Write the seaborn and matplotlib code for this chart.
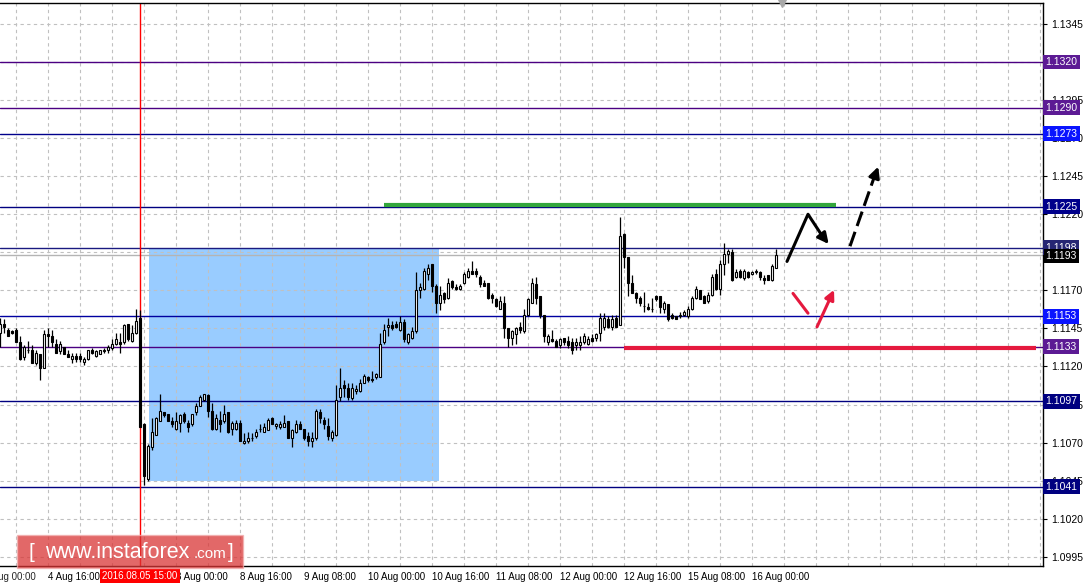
import numpy as np
import pandas as pd
import seaborn as sns
import matplotlib.pyplot as plt
from matplotlib.patches import Rectangle
from matplotlib.ticker import FixedFormatter
from matplotlib.transforms import blended_transform_factory

# EURUSD H1 bars (4 Aug 2016 .. 16 Aug 2016)
opens = [
    1.1142, 1.1148, 1.1144, 1.1143, 1.1144, 1.1136, 1.1126, 1.1131, 1.1131, 1.1122,
    1.1128, 1.1119, 1.1141, 1.1140, 1.1135, 1.1130, 1.1133, 1.1128, 1.1125, 1.1127,
    1.1127, 1.1123, 1.1125, 1.1131, 1.1127, 1.1128, 1.1130, 1.1131, 1.1132, 1.1135,
    1.1136, 1.1136, 1.1148, 1.1137, 1.1142, 1.1152, 1.1082, 1.1046, 1.1067, 1.1075,
    1.1084, 1.1090, 1.1089, 1.1084, 1.1079, 1.1083, 1.1089, 1.1083, 1.1082, 1.1090,
    1.1094, 1.1098, 1.1101, 1.1091, 1.1079, 1.1085, 1.1084, 1.1090, 1.1079, 1.1079,
    1.1083, 1.1070, 1.1071, 1.1073, 1.1074, 1.1079, 1.1077, 1.1078, 1.1086, 1.1081,
    1.1080, 1.1080, 1.1084, 1.1073, 1.1077, 1.1082, 1.1079, 1.1074, 1.1071, 1.1073,
    1.1090, 1.1085, 1.1081, 1.1073, 1.1075, 1.1100, 1.1108, 1.1106, 1.1099, 1.1104,
    1.1104, 1.1109, 1.1113, 1.1112, 1.1113, 1.1113, 1.1136, 1.1146, 1.1147, 1.1148,
    1.1144, 1.1149, 1.1136, 1.1139, 1.1143, 1.1170, 1.1171, 1.1181, 1.1187, 1.1173,
    1.1162, 1.1168, 1.1165, 1.1176, 1.1172, 1.1171, 1.1175, 1.1179, 1.1183, 1.1183,
    1.1179, 1.1175, 1.1175, 1.1167, 1.1164, 1.1158, 1.1162, 1.1145, 1.1139, 1.1141,
    1.1146, 1.1143, 1.1154, 1.1162, 1.1174, 1.1166, 1.1154, 1.1136, 1.1138, 1.1137,
    1.1134, 1.1139, 1.1137, 1.1136, 1.1134, 1.1134, 1.1136, 1.1135, 1.1139, 1.1139,
    1.1142, 1.1146, 1.1151, 1.1146, 1.1152, 1.1147, 1.1207, 1.1192, 1.1175, 1.1168,
    1.1165, 1.1160, 1.1159, 1.1158, 1.1166, 1.1166, 1.1158, 1.1161, 1.1154, 1.1153,
    1.1153, 1.1154, 1.1153, 1.1158, 1.1165, 1.1170, 1.1166, 1.1163, 1.1167, 1.1181,
    1.1171, 1.1187, 1.1194, 1.1195, 1.1179, 1.1183, 1.1178, 1.1182, 1.1181, 1.1182,
    1.1182, 1.1178, 1.1180, 1.1177, 1.1185,
]
highs = [
    1.1152, 1.1151, 1.1145, 1.1144, 1.1145, 1.1140, 1.1134, 1.1137, 1.1134, 1.1131,
    1.1128, 1.1144, 1.1145, 1.1144, 1.1138, 1.1137, 1.1133, 1.1131, 1.1129, 1.1129,
    1.1129, 1.1126, 1.1131, 1.1132, 1.1131, 1.1131, 1.1132, 1.1134, 1.1138, 1.1142,
    1.1142, 1.1148, 1.1148, 1.1147, 1.1158, 1.1157, 1.1083, 1.1069, 1.1086, 1.1087,
    1.1102, 1.1090, 1.1089, 1.1087, 1.1090, 1.1089, 1.1090, 1.1085, 1.1089, 1.1096,
    1.1101, 1.1102, 1.1102, 1.1096, 1.1089, 1.1091, 1.1095, 1.1090, 1.1084, 1.1085,
    1.1085, 1.1076, 1.1077, 1.1076, 1.1079, 1.1082, 1.1083, 1.1086, 1.1087, 1.1083,
    1.1084, 1.1088, 1.1084, 1.1079, 1.1085, 1.1084, 1.1079, 1.1077, 1.1077, 1.1092,
    1.1092, 1.1087, 1.1086, 1.1078, 1.1108, 1.1119, 1.1111, 1.1109, 1.1109, 1.1108,
    1.1112, 1.1115, 1.1114, 1.1117, 1.1116, 1.1142, 1.1148, 1.1152, 1.1150, 1.1150,
    1.1153, 1.1151, 1.1142, 1.1146, 1.1182, 1.1175, 1.1185, 1.1187, 1.1187, 1.1174,
    1.1173, 1.1169, 1.1178, 1.1177, 1.1174, 1.1174, 1.1182, 1.1185, 1.1189, 1.1185,
    1.1180, 1.1177, 1.1175, 1.1168, 1.1165, 1.1166, 1.1166, 1.1145, 1.1144, 1.1146,
    1.1149, 1.1158, 1.1165, 1.1178, 1.1179, 1.1166, 1.1154, 1.1141, 1.1144, 1.1138,
    1.1139, 1.1139, 1.1140, 1.1139, 1.1139, 1.1140, 1.1142, 1.1140, 1.1141, 1.1142,
    1.1155, 1.1155, 1.1153, 1.1154, 1.1154, 1.1218, 1.1208, 1.1192, 1.1180, 1.1169,
    1.1166, 1.1169, 1.1162, 1.1165, 1.1167, 1.1166, 1.1163, 1.1161, 1.1155, 1.1153,
    1.1156, 1.1157, 1.1160, 1.1166, 1.1173, 1.1170, 1.1167, 1.1169, 1.1181, 1.1184,
    1.1190, 1.1201, 1.1197, 1.1197, 1.1184, 1.1184, 1.1184, 1.1183, 1.1183, 1.1184,
    1.1183, 1.1180, 1.1180, 1.1187, 1.1197,
]
lows = [
    1.1133, 1.1142, 1.1140, 1.1141, 1.1136, 1.1124, 1.1124, 1.1129, 1.1122, 1.1121,
    1.1111, 1.1119, 1.1133, 1.1133, 1.1129, 1.1128, 1.1128, 1.1126, 1.1122, 1.1123,
    1.1123, 1.1121, 1.1124, 1.1128, 1.1126, 1.1128, 1.1129, 1.1129, 1.1131, 1.1134,
    1.1129, 1.1135, 1.1137, 1.1136, 1.1141, 1.1080, 1.1042, 1.1045, 1.1065, 1.1075,
    1.1084, 1.1087, 1.1084, 1.1080, 1.1078, 1.1077, 1.1083, 1.1077, 1.1081, 1.1088,
    1.1094, 1.1097, 1.1087, 1.1078, 1.1078, 1.1077, 1.1083, 1.1076, 1.1075, 1.1078,
    1.1071, 1.1069, 1.1070, 1.1071, 1.1073, 1.1077, 1.1077, 1.1078, 1.1082, 1.1079,
    1.1079, 1.1080, 1.1073, 1.1067, 1.1076, 1.1079, 1.1072, 1.1068, 1.1067, 1.1072,
    1.1083, 1.1079, 1.1072, 1.1071, 1.1074, 1.1097, 1.1100, 1.1098, 1.1098, 1.1102,
    1.1103, 1.1109, 1.1110, 1.1110, 1.1112, 1.1113, 1.1135, 1.1140, 1.1144, 1.1145,
    1.1143, 1.1136, 1.1135, 1.1138, 1.1142, 1.1165, 1.1170, 1.1177, 1.1169, 1.1155,
    1.1157, 1.1162, 1.1164, 1.1171, 1.1170, 1.1170, 1.1174, 1.1178, 1.1181, 1.1179,
    1.1172, 1.1173, 1.1164, 1.1162, 1.1159, 1.1158, 1.1139, 1.1133, 1.1134, 1.1135,
    1.1142, 1.1142, 1.1153, 1.1162, 1.1161, 1.1152, 1.1136, 1.1134, 1.1136, 1.1133,
    1.1132, 1.1134, 1.1132, 1.1128, 1.1131, 1.1131, 1.1135, 1.1134, 1.1136, 1.1137,
    1.1137, 1.1144, 1.1145, 1.1144, 1.1146, 1.1147, 1.1185, 1.1166, 1.1168, 1.1162,
    1.1160, 1.1156, 1.1157, 1.1156, 1.1163, 1.1155, 1.1155, 1.1150, 1.1151, 1.1151,
    1.1152, 1.1153, 1.1152, 1.1157, 1.1164, 1.1164, 1.1162, 1.1162, 1.1166, 1.1170,
    1.1167, 1.1180, 1.1188, 1.1176, 1.1178, 1.1178, 1.1177, 1.1178, 1.1180, 1.1181,
    1.1177, 1.1174, 1.1177, 1.1176, 1.1185,
]
closes = [
    1.1148, 1.1146, 1.1140, 1.1142, 1.1136, 1.1125, 1.1133, 1.1131, 1.1122, 1.1129,
    1.1119, 1.1141, 1.1140, 1.1136, 1.1129, 1.1135, 1.1128, 1.1126, 1.1127, 1.1125,
    1.1125, 1.1125, 1.1131, 1.1129, 1.1130, 1.1131, 1.1131, 1.1133, 1.1135, 1.1138,
    1.1135, 1.1147, 1.1138, 1.1142, 1.1150, 1.1080, 1.1048, 1.1068, 1.1077, 1.1086,
    1.1091, 1.1088, 1.1084, 1.1082, 1.1084, 1.1088, 1.1084, 1.1080, 1.1089, 1.1094,
    1.1100, 1.1102, 1.1091, 1.1079, 1.1086, 1.1082, 1.1089, 1.1077, 1.1083, 1.1083,
    1.1071, 1.1071, 1.1073, 1.1073, 1.1077, 1.1079, 1.1080, 1.1085, 1.1082, 1.1082,
    1.1082, 1.1083, 1.1073, 1.1078, 1.1082, 1.1079, 1.1073, 1.1071, 1.1073, 1.1091,
    1.1086, 1.1082, 1.1074, 1.1077, 1.1098, 1.1106, 1.1106, 1.1100, 1.1106, 1.1105,
    1.1109, 1.1114, 1.1111, 1.1111, 1.1115, 1.1135, 1.1144, 1.1147, 1.1145, 1.1146,
    1.1149, 1.1138, 1.1141, 1.1143, 1.1170, 1.1172, 1.1183, 1.1185, 1.1173, 1.1162,
    1.1167, 1.1164, 1.1175, 1.1172, 1.1171, 1.1173, 1.1181, 1.1183, 1.1181, 1.1181,
    1.1174, 1.1173, 1.1165, 1.1165, 1.1160, 1.1163, 1.1145, 1.1139, 1.1143, 1.1145,
    1.1144, 1.1154, 1.1164, 1.1175, 1.1165, 1.1154, 1.1140, 1.1140, 1.1137, 1.1133,
    1.1138, 1.1136, 1.1134, 1.1131, 1.1136, 1.1136, 1.1140, 1.1138, 1.1137, 1.1141,
    1.1152, 1.1152, 1.1146, 1.1151, 1.1146, 1.1206, 1.1192, 1.1175, 1.1168, 1.1165,
    1.1162, 1.1160, 1.1158, 1.1158, 1.1164, 1.1159, 1.1162, 1.1151, 1.1152, 1.1151,
    1.1154, 1.1156, 1.1158, 1.1165, 1.1171, 1.1164, 1.1162, 1.1167, 1.1179, 1.1171,
    1.1187, 1.1194, 1.1196, 1.1177, 1.1182, 1.1179, 1.1183, 1.1179, 1.1182, 1.1183,
    1.1179, 1.1177, 1.1177, 1.1186, 1.1193,
]

# time axis labels (bar index where each label starts); the 5 Aug label is
# hidden under the red time stamp in the original, so it stays blank
label_bars = [12, 28, 44, 60, 76, 92, 108, 124, 140, 156, 172, 188]
label_text = ["4 Aug 16:00", "", "8 Aug 00:00", "8 Aug 16:00", "9 Aug 08:00",
              "10 Aug 00:00", "10 Aug 16:00", "11 Aug 08:00", "12 Aug 00:00",
              "12 Aug 16:00", "15 Aug 08:00", "16 Aug 00:00"]
price_ticks = [1.0995, 1.1020, 1.1045, 1.1070, 1.1095, 1.1120, 1.1145, 1.1170,
               1.1195, 1.1220, 1.1245, 1.1270, 1.1295, 1.1320, 1.1345]
# labels fully covered by the level boxes are left blank
price_tick_labels = ["1.0995", "1.1020", "1.1045", "1.1070", "1.1095", "1.1120",
                     "1.1145", "1.1170", "", "1.1220", "1.1245", "1.1270", "1.1295",
                     "", "1.1345"]

# horizontal levels drawn on the chart
levels = [1.1320, 1.1290, 1.1273, 1.1225, 1.1198, 1.1153, 1.1133, 1.1097, 1.1041]
level_line_colors = ["#4b0082", "#4b0082", "#00008b", "#000080", "#1a1a80",
                     "#0000a0", "#4b0082", "#000080", "#000080"]
level_box_colors = ["#5c1a94", "#5c1a94", "#0a14ff", "#00008b", "#262673",
                    "#0a14ff", "#5c1a94", "#000080", "#000080"]
last_price = 1.1193
news_bar = 35

sns.set_theme(style="white")
plt.rcParams["font.family"] = ["Liberation Sans", "DejaVu Sans"]

df = pd.DataFrame({"open": opens, "high": highs, "low": lows, "close": closes})
df["bar"] = np.arange(len(df))
df["bull"] = df["close"] >= df["open"]

fig = plt.figure(figsize=(10.86, 5.85), dpi=100)
ax = fig.add_axes([0, 19 / 585, 1043 / 1086, 563 / 585])
ax.set_xlim(0, 260.75)
ax.set_ylim(1.09889, 1.13588)

# analysis box
ax.add_patch(Rectangle((37.25, 1.1045), 72.5, 1.1198 - 1.1045,
                       facecolor="#99ccff", edgecolor="none", zorder=0.2))

# levels
for lv, lc in zip(levels, level_line_colors):
    ax.axhline(lv, color=lc, lw=1.0, zorder=1)
ax.axhline(last_price, color="#b4b4b4", lw=1.0, zorder=1)
ax.axvline(news_bar, color="red", lw=1.0, zorder=1.5)

# candles
ax.vlines(df["bar"], df["low"], df["high"], color="black", lw=0.9, zorder=3)
body_lo = df[["open", "close"]].min(axis=1)
body_h = (df["close"] - df["open"]).abs()
ax.bar(df["bar"], body_h, bottom=body_lo, width=0.55,
       color=np.where(df["bull"], "white", "black"),
       edgecolor="black", linewidth=0.8, zorder=4)

# drawn targets
ax.plot([96, 209], [1.1226, 1.1226], color="#33a63c", lw=3, solid_capstyle="butt", zorder=5)
ax.plot([156, 259], [1.1132, 1.1132], color="#e5193e", lw=3, solid_capstyle="butt", zorder=5)

ax.plot([196.75, 202.0, 206.0], [1.1189, 1.1220, 1.1204], color="black", lw=2.2, zorder=6)
ax.annotate("", xy=(207.6, 1.1199), xytext=(205.5, 1.1206),
            arrowprops=dict(arrowstyle="-|>", color="black", lw=2.2, mutation_scale=16), zorder=6)
ax.plot([212.5, 218.5], [1.1199, 1.1244], color="black", lw=2.2, ls=(0, (5, 2)), zorder=6)
ax.annotate("", xy=(219.8, 1.1253), xytext=(218.3, 1.1242),
            arrowprops=dict(arrowstyle="-|>", color="black", lw=2.2, mutation_scale=16), zorder=6)
ax.plot([198.25, 202.0], [1.1168, 1.1155], color="#e5193e", lw=2.2, zorder=6)
ax.plot([204.25, 207.4], [1.1146, 1.1164], color="#e5193e", lw=2.2, zorder=6)
ax.annotate("", xy=(208.8, 1.1172), xytext=(207.2, 1.1163),
            arrowprops=dict(arrowstyle="-|>", color="#e5193e", lw=2.2, mutation_scale=14), zorder=6)
ax.plot([195.5], [1.13588], marker="v", color="#a8a8a8", ms=6, clip_on=False, zorder=6)

# axes styling
ax.yaxis.tick_right()
ax.set_yticks(price_ticks)
ax.yaxis.set_major_formatter(FixedFormatter(price_tick_labels))
ax.set_xticks(label_bars)
ax.set_xticklabels(label_text)
ax.set_xticks(list(range(4, 261, 8)), minor=True)
for lab in ax.get_xticklabels():
    lab.set_ha("left")
ax.tick_params(axis="both", which="major", labelsize=7, colors="black", length=3,
               width=0.8, pad=1.5, direction="out")
ax.tick_params(axis="y", labelsize=7.5, right=True, left=False, pad=3)
ax.tick_params(axis="x", which="minor", length=0)
ax.grid(True, axis="x", which="both", color="#c0c0c0", ls=(0, (3, 3)), lw=0.8)
ax.grid(True, axis="y", which="major", color="#c0c0c0", ls=(0, (3, 3)), lw=0.8)
ax.set_axisbelow(True)
for side in ["top", "right", "bottom"]:
    ax.spines[side].set_color("black")
    ax.spines[side].set_linewidth(1.0)
ax.spines["left"].set_visible(False)

# first, cut-off date label
ax.annotate("4 Aug 00:00", xy=(-4, 0), xycoords=("data", "axes fraction"),
            xytext=(0, -4.5), textcoords="offset points", ha="left", va="top",
            fontsize=7, annotation_clip=False)

# price boxes on the right scale
tr = blended_transform_factory(ax.transAxes, ax.transData)
for lv, bc in zip(levels, level_box_colors):
    ax.text(1.0025, lv, f"{lv:.4f}", transform=tr, ha="left", va="center", color="white",
            fontsize=7.5, clip_on=False, zorder=10,
            bbox=dict(boxstyle="square,pad=0.22", fc=bc, ec="none"))
ax.text(1.0025, last_price - 0.00005, f"{last_price:.4f}", transform=tr, ha="left", va="center",
        color="white", fontsize=7.5, clip_on=False, zorder=11,
        bbox=dict(boxstyle="square,pad=0.18", fc="black", ec="none"))

# news bar time stamp
ax.annotate("2016.08.05 15:00", xy=(news_bar, 0), xycoords=("data", "axes fraction"),
            xytext=(0, -3.5), textcoords="offset points", ha="center", va="top",
            fontsize=7, color="white", annotation_clip=False, zorder=12,
            bbox=dict(boxstyle="square,pad=0.25", fc="#ff0000", ec="none"))

# watermark
fig.patches.append(Rectangle((17 / 1086, 17 / 585), 226 / 1086, 33 / 585,
                             transform=fig.transFigure, facecolor="#d93535", alpha=0.75,
                             edgecolor="#f2b0b0", lw=1, zorder=20))
fig.text(28 / 1086, 27 / 585, "[", color="white", fontsize=15, va="baseline", zorder=21)
fig.text(45 / 1086, 27 / 585, "www.instaforex", color="white", fontsize=15.5,
         va="baseline", zorder=21)
fig.text(194 / 1086, 27 / 585, ".com", color="white", fontsize=11, va="baseline", zorder=21)
fig.text(228 / 1086, 27 / 585, "]", color="white", fontsize=15, va="baseline", zorder=21)

fig.savefig("out.png", dpi=100, facecolor="white")
